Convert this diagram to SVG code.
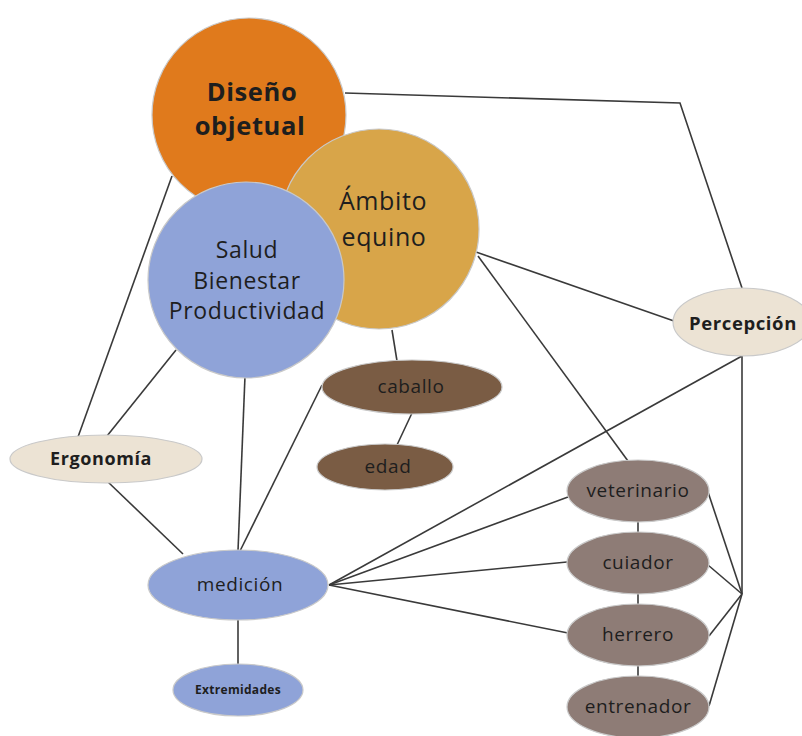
<svg xmlns="http://www.w3.org/2000/svg" width="802" height="736" viewBox="0 0 802 736">
<style>
.ln{stroke:#3a3a3a;stroke-width:1.6;fill:none}
.t{font-family:"Open Sans","Liberation Sans",sans-serif;fill:#1e1e1e;text-anchor:middle;letter-spacing:0.6px}
.b{font-weight:bold}
.nd{stroke:#c9c9c9;stroke-width:1.2}
</style>
<rect width="802" height="736" fill="#ffffff"/>
<g id="connectors">
<polyline class="ln" points="345,93 680,103 742,288"/>
<line class="ln" x1="172" y1="176" x2="78" y2="437"/>
<line class="ln" x1="176" y1="350" x2="107" y2="436"/>
<line class="ln" x1="108" y1="482" x2="183" y2="554"/>
<line class="ln" x1="245" y1="376" x2="238" y2="551"/>
<line class="ln" x1="322" y1="385" x2="240" y2="551"/>
<line class="ln" x1="392" y1="330" x2="397" y2="361"/>
<line class="ln" x1="412" y1="413" x2="397" y2="445"/>
<line class="ln" x1="476" y1="252" x2="674" y2="321"/>
<line class="ln" x1="478" y1="256" x2="628" y2="461"/>
<line class="ln" x1="329" y1="585" x2="742" y2="356"/>
<line class="ln" x1="329" y1="585" x2="568" y2="497"/>
<line class="ln" x1="329" y1="585" x2="567" y2="562"/>
<line class="ln" x1="329" y1="585" x2="568" y2="633"/>
<line class="ln" x1="742" y1="356" x2="742" y2="594"/>
<line class="ln" x1="708" y1="492" x2="742" y2="594"/>
<line class="ln" x1="708" y1="565" x2="742" y2="594"/>
<line class="ln" x1="709" y1="636" x2="742" y2="594"/>
<line class="ln" x1="709" y1="706" x2="742" y2="594"/>
<line class="ln" x1="638" y1="521" x2="638" y2="533"/>
<line class="ln" x1="638" y1="593" x2="638" y2="605"/>
<line class="ln" x1="638" y1="666" x2="638" y2="677"/>
<line class="ln" x1="238" y1="619" x2="238" y2="665"/>
</g>
<g id="diseno">
<circle class="nd" cx="249" cy="115" r="97" fill="#e07a1c"/>
<text class="t b" x="252" y="101" font-size="25.5">Diseño</text>
<text class="t b" x="250" y="135" font-size="25.5">objetual</text>
</g>
<g id="ambito">
<circle class="nd" cx="379" cy="229" r="100" fill="#d8a549"/>
<text class="t" x="383" y="210" font-size="25">Ámbito</text>
<text class="t" x="384" y="246" font-size="25">equino</text>
</g>
<g id="salud">
<circle class="nd" cx="246" cy="280" r="98" fill="#8fa3d8"/>
<text class="t" x="247" y="258" font-size="23">Salud</text>
<text class="t" x="247" y="289" font-size="23">Bienestar</text>
<text class="t" x="247" y="319" font-size="23">Productividad</text>
</g>
<g id="percepcion">
<ellipse class="nd" cx="742" cy="322" rx="69" ry="34" fill="#ece3d4"/>
<text class="t b" x="743" y="330" font-size="18.5">Percepción</text>
</g>
<g id="ergonomia">
<ellipse class="nd" cx="106" cy="459" rx="96" ry="24" fill="#ece3d4"/>
<text class="t b" x="101" y="465" font-size="18">Ergonomía</text>
</g>
<g id="medicion">
<ellipse class="nd" cx="238" cy="585" rx="90" ry="35" fill="#8fa3d8"/>
<text class="t" x="240" y="591" font-size="19">medición</text>
</g>
<g id="extremidades">
<ellipse class="nd" cx="238" cy="690" rx="65" ry="26" fill="#8fa3d8"/>
<text class="t b" x="238" y="694" font-size="12" style="letter-spacing:0.3px">Extremidades</text>
</g>
<g id="caballo">
<ellipse class="nd" cx="412" cy="387" rx="90" ry="27" fill="#7a5c44"/>
<text class="t" x="411" y="393" font-size="19">caballo</text>
</g>
<g id="edad">
<ellipse class="nd" cx="385" cy="467" rx="68" ry="23" fill="#7a5c44"/>
<text class="t" x="388" y="473" font-size="19">edad</text>
</g>
<g id="veterinario">
<ellipse class="nd" cx="638" cy="491" rx="71" ry="31" fill="#8e7c76"/>
<text class="t" x="638" y="497" font-size="19">veterinario</text>
</g>
<g id="cuiador">
<ellipse class="nd" cx="638" cy="563" rx="71" ry="31" fill="#8e7c76"/>
<text class="t" x="638" y="569" font-size="19">cuiador</text>
</g>
<g id="herrero">
<ellipse class="nd" cx="638" cy="635" rx="71" ry="31" fill="#8e7c76"/>
<text class="t" x="638" y="641" font-size="19">herrero</text>
</g>
<g id="entrenador">
<ellipse class="nd" cx="638" cy="707" rx="71" ry="31" fill="#8e7c76"/>
<text class="t" x="638" y="713" font-size="19">entrenador</text>
</g>
</svg>
